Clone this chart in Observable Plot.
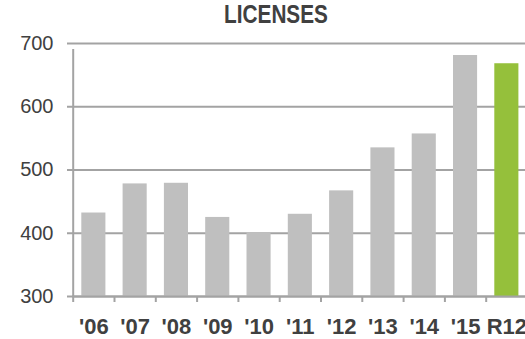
<!DOCTYPE html>
<html>
<head>
<meta charset="utf-8">
<script src="https://cdn.jsdelivr.net/npm/d3@7"></script>
<script src="https://cdn.jsdelivr.net/npm/@observablehq/plot@0.6"></script>
<style>
  html, body { margin: 0; padding: 0; background: #fff; overflow: hidden; }
  #wrap { position: relative; width: 525px; height: 339px; }
  #title {
    position: absolute; left: 0; top: 2px; width: 552px; text-align: center;
    font-family: "Liberation Sans", Arial, sans-serif;
    font-weight: bold; font-size: 25px; line-height: 25px; color: #404040;
    transform: scaleX(0.83); transform-origin: 276px 0;
  }
  svg { display: block; }
</style>
</head>
<body>
<div id="wrap"><div id="title">LICENSES</div><div id="chart"></div></div>
<script>
const categories = ["'06", "'07", "'08", "'09", "'10", "'11", "'12", "'13", "'14", "'15", "R12"];
const values = [432, 478, 479, 425, 401, 430, 467, 535, 557, 681, 668];
const highlight = [false, false, false, false, false, false, false, false, false, false, true];
const yTicks = [300, 400, 500, 600, 700];

const data = categories.map((c, i) => ({cat: c, i, value: values[i], hl: highlight[i]}));
const boundaries = d3.range(0, categories.length + 1);
const gridColor = "#a3a3a3";

const chart = Plot.plot({
  width: 525,
  height: 339,
  marginLeft: 72,
  marginRight: 0,
  marginTop: 43,
  marginBottom: 43,
  x: {domain: [0, categories.length], range: [72.7, 527], label: null},
  y: {domain: [300, 700], range: [296, 43], label: null},
  marks: [
    Plot.ruleY(yTicks, {stroke: gridColor, strokeWidth: 2}),
    Plot.rectY(data, {
      x1: d => d.i, x2: d => d.i + 1, y1: 300, y2: "value",
      insetLeft: 8.6, insetRight: 8.6,
      fill: d => d.hl ? "#95c03b" : "#bfbfbf"
    }),
    Plot.ruleY([300], {stroke: gridColor, strokeWidth: 2}),
    Plot.ruleX([0], {y1: 300, y2: 700, stroke: gridColor, strokeWidth: 2, insetBottom: -6}),
    Plot.axisX({
      ticks: boundaries, tickSize: 6, tickFormat: () => "", stroke: gridColor, strokeWidth: 2, label: null
    }),
    Plot.axisX({
      ticks: categories.map((_, i) => i + 0.5),
      tickFormat: v => categories[Math.floor(v)],
      tickSize: 0, tickPadding: 22, label: null,
      fontSize: 22, fontWeight: "bold", fill: "#404040",
      fontFamily: "'Liberation Sans', Arial, sans-serif",
      ariaLabel: "xlabels"
    }),
    Plot.axisY({
      ticks: yTicks, tickSize: 5, tickPadding: 14, stroke: gridColor, strokeWidth: 2, label: null,
      fontSize: 20, fill: "#404040",
      fontFamily: "'Liberation Sans', Arial, sans-serif"
    })
  ]
});
document.getElementById("chart").appendChild(chart);
// condense the bold x labels (narrow-font look) with textLength
const labelNodes = chart.querySelectorAll("g[aria-label='xlabels'] text");
labelNodes.forEach((t, k) => {
  const w = t.getComputedTextLength();
  t.setAttribute("textLength", (w * 0.84).toFixed(2));
  t.setAttribute("lengthAdjust", "spacingAndGlyphs");
  if (k === labelNodes.length - 1) t.setAttribute("dx", "-4");
});
</script>
</body>
</html>
